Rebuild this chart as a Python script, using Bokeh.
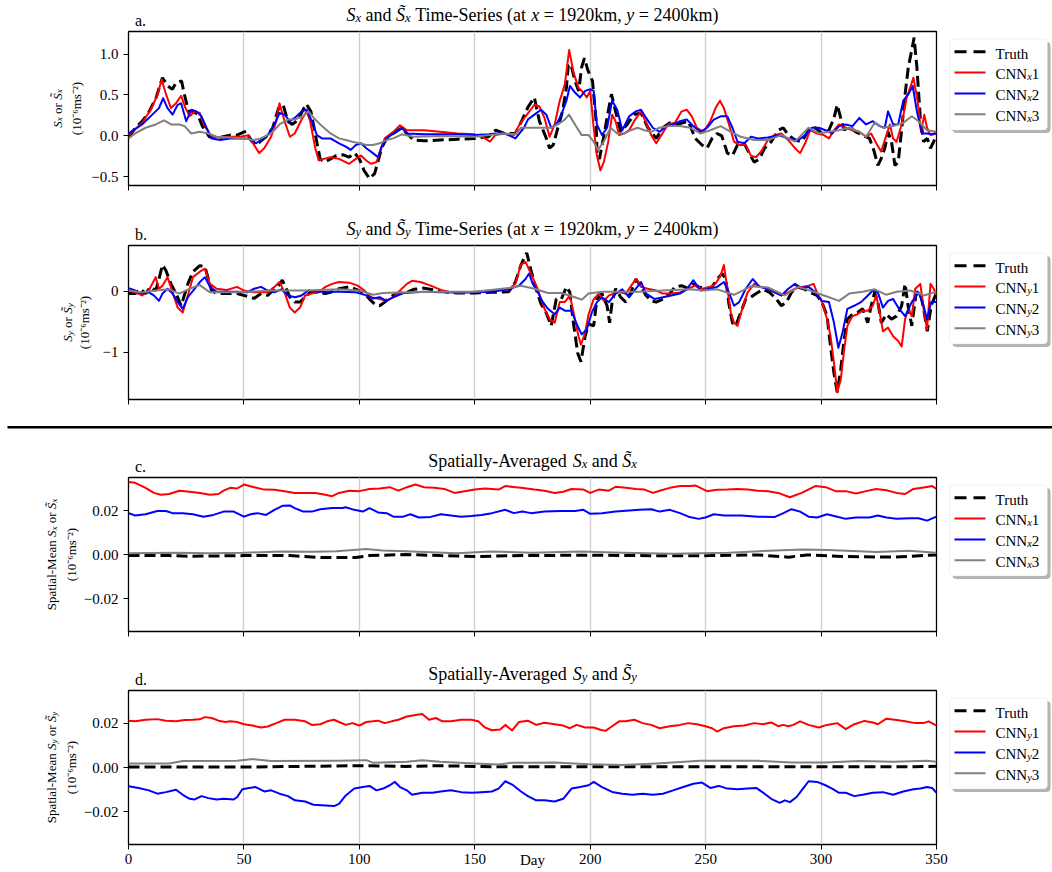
from bokeh.plotting import figure
from bokeh.layouts import column, row
from bokeh.models import Label, BoxAnnotation, FixedTicker, Range1d, CustomJSTickFormatter
from bokeh.embed import file_html
from bokeh.resources import INLINE

# ---------------- data (day, value) ----------------
# a. S_x at a single grid point
a_truth_day = [0, 3, 6, 9, 12, 14.7, 17, 19, 20.6, 23, 24, 26, 28, 30, 32, 35, 38, 41, 44, 47, 51, 53, 55, 57, 60,
               62.5, 65, 67, 69, 71, 73.5, 76, 77, 79, 81, 83, 85, 87.5, 90, 93, 95.5, 98, 100, 102, 104.4, 106.6, 108,
               109.6, 111.8, 114.7, 118.4, 120.6, 123.5, 128, 135, 142.6, 150, 156, 159, 163, 167.6, 170.6, 173, 175.8,
               178, 181, 182.4, 184, 186, 188, 189.7, 190.5, 191.6, 193.4, 195, 196.3, 197.5, 199, 201, 202.5, 203,
               204, 205.9, 207.8, 209.2, 211, 213.2, 216, 219, 222, 225, 228.6, 231.5, 234.5, 237.4, 240, 242.5, 245.5,
               248.4, 250.6, 252.8, 255, 257, 259.4, 261.6, 263.8, 266.7, 268.9, 271, 273.3, 275.5, 278.4, 281.4, 283.6,
               285.8, 288.7, 291.6, 294.6, 297.5, 300.4, 303.4, 305.6, 307, 308.5, 310, 312, 315, 318, 321, 323, 324.6,
               326, 327.6, 329, 330.5, 332, 333.4, 335, 336.4, 337.8, 339.3, 340.3, 341.5, 343, 344.4, 346, 347.4,
               348.8, 350]
a_truth = [-0.02, 0.1, 0.18, 0.3, 0.47, 0.71, 0.61, 0.57, 0.65, 0.67, 0.53, 0.3, 0.3, 0.26, 0.12, -0.01, -0.03, -0.01,
           0.01, 0.01, 0.06, -0.05, -0.11, -0.07, 0.0, 0.1, 0.34, 0.38, 0.18, 0.14, 0.2, 0.34, 0.39, 0.3, 0.01, -0.28,
           -0.32, -0.28, -0.24, -0.23, -0.26, -0.21, -0.28, -0.42, -0.52, -0.46, -0.32, -0.15, -0.03, 0.03, 0.1, 0.03,
           -0.05, -0.06, -0.05, -0.04, -0.03, -0.01, 0.07, 0.03, 0.03, 0.2, 0.35, 0.47, 0.18, -0.03, -0.15, -0.11, 0.1,
           0.3, 0.59, 0.86, 0.88, 0.67, 0.55, 0.84, 0.95, 0.8, 0.67, 0.2, -0.24, -0.28, 0.0, 0.3, 0.51, 0.3, 0.05,
           0.14, 0.26, 0.28, 0.1, -0.03, 0.1, 0.16, 0.14, 0.16, 0.18, -0.03, -0.11, -0.15, -0.03, 0.03, 0.0, -0.21,
           -0.24, -0.11, -0.09, -0.21, -0.32, -0.28, -0.15, -0.07, 0.07, 0.1, 0.01, -0.05, -0.07, 0.07, 0.1, 0.03,
           0.07, 0.22, 0.38, 0.22, 0.07, 0.12, 0.05, 0.01, -0.03, -0.19, -0.36, -0.28, -0.15, 0.05, -0.07, -0.36,
           -0.32, 0.1, 0.51, 0.84, 1.05, 1.2, 0.84, 0.22, -0.07, -0.03, -0.15, -0.07, 0.03]

a_cnn1_day = [0, 6, 10, 12.5, 14.4, 16, 18.4, 20.6, 22.8, 24.7, 26.5, 28.7, 30.9, 33, 36, 39.7, 44, 48.5, 52, 54.4,
              56.6, 58.8, 61.8, 64, 65.4, 67.6, 69.9, 72, 75, 77.2, 78.7, 80.9, 82.4, 84.6, 87.5, 91.2, 95.6, 98.5,
              100.7, 103, 105, 107.4, 108.8, 111, 114.7, 117.6, 120.6, 128, 135, 142.6, 150, 154.4, 156.6, 158.8, 163,
              166.9, 169, 172, 175.8, 178, 180.2, 182.4, 184.6, 186.8, 189, 190.9, 192.7, 194.9, 197, 198.5, 200,
              201.5, 202.9, 204.4, 205.9, 207.8, 209.5, 211, 212.5, 214.7, 216.9, 219, 222, 224.2, 226.4, 228.6, 230.8,
              233.7, 236.7, 239.6, 241.8, 244, 246.2, 249.1, 252, 254.3, 256.2, 257.9, 260.1, 262.3, 264.5, 267.4,
              269.6, 271.8, 274, 277, 279.9, 282.8, 285.8, 288.7, 290.9, 293.1, 295.3, 298.2, 301.2, 303.4, 305.6,
              307.8, 310.7, 313.6, 316.6, 319.5, 321.7, 323.9, 326, 328.3, 329.8, 331.2, 332.7, 334.9, 337.1, 338.6,
              340, 341.8, 343.3, 344.7, 345.9, 347.4, 350]
a_cnn1 = [0.01, 0.16, 0.34, 0.5, 0.69, 0.53, 0.34, 0.4, 0.49, 0.34, 0.24, 0.3, 0.28, 0.12, -0.01, -0.02, -0.01, -0.01,
          0.01, -0.11, -0.21, -0.15, -0.01, 0.18, 0.4, 0.18, -0.01, 0.03, 0.2, 0.3, 0.18, -0.15, -0.3, -0.28, -0.26,
          -0.28, -0.34, -0.28, -0.24, -0.3, -0.34, -0.32, -0.21, -0.03, 0.05, 0.13, 0.07, 0.07, 0.05, 0.03, 0.02,
          -0.03, -0.07, 0.01, 0.03, 0.01, 0.12, 0.24, 0.38, 0.36, 0.22, -0.01, 0.14, 0.43, 0.63, 1.05, 0.78, 0.59,
          0.53, 0.47, 0.55, 0.1, -0.24, -0.42, -0.32, -0.07, 0.26, 0.18, 0.01, 0.03, 0.07, 0.18, 0.3, 0.16, 0.01,
          -0.09, 0.01, 0.14, 0.16, 0.3, 0.32, 0.24, 0.1, 0.05, 0.18, 0.34, 0.43, 0.34, 0.14, -0.07, -0.11, -0.11,
          -0.24, -0.26, -0.19, -0.05, 0.01, 0.03, -0.05, -0.15, -0.21, -0.09, 0.07, 0.03, 0.01, -0.03, 0.07, 0.14,
          0.1, 0.07, 0.05, -0.01, 0.03, -0.09, -0.19, 0.01, 0.14, -0.03, -0.07, 0.14, 0.47, 0.59, 0.71, 0.43, 0.05,
          0.26, 0.1, 0.01, 0.03]

a_cnn2_day = [0, 5.9, 10.3, 13.2, 15, 16.9, 19.1, 21.3, 22.8, 25, 27.2, 29.4, 31.6, 33.8, 36, 39.7, 44, 48.5, 52.9,
              55.1, 57.4, 60.3, 63.2, 65.4, 67.6, 69.9, 72, 75, 77.2, 79.4, 81.6, 83.8, 87.5, 91.2, 94.1, 96.3, 98.5,
              100.7, 103, 105.9, 108.1, 109.6, 111.8, 114.7, 118.4, 120.6, 128, 135, 142.6, 150, 156, 159, 163, 167.6,
              171.3, 173, 175.8, 178.7, 181, 183.1, 185.3, 187.5, 189.7, 191.2, 193.4, 195.6, 197.8, 200, 201.5,
              202.9, 205.1, 207.3, 209.5, 211.7, 213.9, 216.9, 219.8, 222, 224.2, 227.1, 230.1, 233, 235.9, 238.9,
              241.8, 244.7, 247.7, 250.6, 253.5, 256.5, 259.4, 261.6, 263.8, 266.7, 269.7, 272.6, 277, 281.4, 285.8,
              290.2, 293.1, 296, 299, 301.9, 304.8, 307.8, 310.7, 313.6, 316.6, 319.5, 322.4, 325.4, 327.6, 329,
              331.2, 333.4, 335.6, 337.8, 339.7, 341.5, 343.7, 345.9, 348.1, 350]
a_cnn2 = [0.03, 0.14, 0.26, 0.34, 0.46, 0.34, 0.26, 0.38, 0.4, 0.18, 0.32, 0.3, 0.24, 0.1, -0.03, -0.05, -0.03, -0.03,
          -0.03, -0.09, -0.05, 0.01, 0.14, 0.28, 0.26, 0.18, 0.22, 0.3, 0.32, 0.18, 0.01, -0.03, -0.03, -0.09, -0.13,
          -0.17, -0.11, -0.09, -0.15, -0.21, -0.26, -0.13, -0.03, 0.03, 0.1, 0.03, 0.02, 0.02, 0.02, 0.01, 0.02, 0.03,
          0.03, -0.03, 0.1, 0.2, 0.26, 0.32, 0.26, 0.1, 0.14, 0.26, 0.43, 0.61, 0.53, 0.47, 0.55, 0.57, 0.55, 0.14,
          0.01, 0.1, 0.43, 0.32, 0.07, 0.24, 0.3, 0.32, 0.22, 0.1, 0.05, 0.12, 0.14, 0.18, 0.2, 0.12, 0.05, 0.1, 0.2,
          0.24, 0.24, 0.1, -0.07, -0.09, -0.01, -0.03, -0.02, 0.01, -0.03, -0.05, 0.01, 0.1, 0.1, 0.07, 0.03, 0.12,
          0.14, 0.12, 0.22, 0.14, 0.18, 0.12, 0.1, 0.3, 0.14, 0.14, 0.43, 0.51, 0.61, 0.3, 0.03, 0.03, 0.02, 0.04]

a_cnn3_day = [0, 2.9, 7.4, 11.8, 15.4, 18.4, 22, 24.3, 27.2, 30.9, 34.6, 38.2, 44, 50, 54.4, 57.3, 61.8, 65.4, 69, 72,
              75.7, 77.9, 80.9, 83.8, 87.5, 91.2, 94.1, 97, 100, 103, 105.9, 108.8, 111.8, 114.7, 118.4, 123.5, 135,
              150, 156, 162, 167.6, 170, 174.4, 178.7, 183.1, 186, 189, 190.8, 193.4, 196.3, 199.3, 201.5, 203.4,
              205.9, 208.8, 211.7, 214.7, 217.6, 220.5, 223.5, 226.4, 230, 234.5, 238.9, 243.3, 247.7, 252, 256.5,
              260.9, 265.2, 271, 277, 282.8, 288.7, 294.6, 299, 303.4, 307.8, 312.2, 316.6, 319.5, 323.2, 326.8,
              331.2, 335.6, 339.3, 342.2, 345.9, 350]
a_cnn3 = [-0.03, 0.03, 0.1, 0.14, 0.19, 0.14, 0.14, 0.12, 0.03, 0.05, 0.03, -0.01, -0.02, -0.03, -0.05, -0.03, 0.03,
          0.14, 0.2, 0.2, 0.24, 0.3, 0.2, 0.12, 0.03, -0.03, -0.05, -0.07, -0.09, -0.11, -0.11, -0.09, -0.05, -0.03,
          0.02, -0.01, 0.0, -0.01, 0.01, 0.03, 0.02, 0.1, 0.1, 0.1, 0.1, 0.14, 0.2, 0.26, 0.14, 0.01, 0.01, -0.07,
          -0.17, -0.07, 0.1, 0.03, 0.03, 0.07, 0.1, 0.07, 0.05, 0.1, 0.12, 0.12, 0.1, 0.03, 0.07, 0.12, 0.05, -0.01,
          -0.05, -0.05, 0.01, -0.07, 0.1, 0.03, 0.05, 0.07, 0.1, 0.05, -0.01, 0.16, 0.1, 0.12, 0.16, 0.24, 0.18,
          0.07, 0.05]

# b. S_y at a single grid point
b_truth_day = [0, 2.9, 5.1, 7.4, 9.6, 11.8, 13.2, 14.7, 16.2, 18.4, 20.6, 22.8, 25.7, 27.9, 30.9, 33.1, 34.6, 36,
               38.2, 47, 52.9, 54.4, 57.4, 60.3, 62.5, 64.7, 66.6, 68, 69.9, 72.1, 74.3, 76.5, 78.7, 82.4, 85.3, 87.5,
               91.2, 95.6, 100, 102.2, 104.4, 106.6, 108.8, 111, 113.2, 116.2, 120.6, 123.5, 128, 134, 138.4, 142.8,
               150, 157.4, 164.7, 167.6, 170, 172.5, 174.3, 176.5, 178.7, 180.9, 183.1, 185.3, 187.5, 189.7, 191.2,
               192.7, 194.6, 196, 197.8, 199.3, 201.5, 202.9, 205.1, 207.3, 208.4, 209.5, 211, 213.2, 215.4, 217.6,
               219.8, 222, 224.2, 226.4, 228.6, 231.5, 234.5, 236.7, 239.6, 242.5, 244.7, 246.9, 249.9, 252.8, 255,
               257.2, 258.7, 260.1, 261.6, 263, 265.2, 267.4, 269.6, 271.9, 274.8, 277.7, 280.6, 282.8, 285, 287.2,
               289.4, 292.4, 295.3, 298.2, 300.4, 302.6, 304.1, 305.6, 307, 308.5, 310, 311.4, 313.6, 315.8, 318,
               320.2, 321.7, 323.2, 324.6, 326.1, 328.3, 330.5, 332.7, 334.9, 336.4, 337.8, 339.3, 341.2, 343, 344.4,
               346, 347.7, 350]
b_truth = [-0.04, -0.04, 0.04, -0.04, 0.07, 0.01, 0.2, 0.43, 0.34, 0.12, -0.04, -0.24, 0.12, 0.32, 0.42, 0.4, 0.2,
           0.01, -0.04, -0.04, -0.1, -0.12, -0.04, -0.07, 0.01, 0.07, 0.18, 0.07, -0.1, -0.18, -0.18, -0.1, -0.02,
           -0.02, -0.04, -0.02, 0.04, 0.07, 0.01, -0.04, -0.13, -0.21, -0.24, -0.18, -0.1, -0.04, -0.02, 0.03, 0.05,
           0.01, -0.02, -0.03, -0.03, -0.02, -0.01, 0.15, 0.43, 0.63, 0.35, 0.04, -0.21, -0.35, -0.57, -0.13, -0.13,
           0.07, -0.02, -0.52, -1.02, -1.16, -0.74, -0.54, -0.57, -0.13, -0.04, -0.24, -0.52, -0.18, 0.04, -0.1,
           -0.18, -0.02, 0.2, 0.07, -0.07, -0.16, -0.18, -0.13, -0.04, 0.07, 0.09, 0.04, 0.12, 0.07, 0.04, 0.07, 0.2,
           0.29, 0.2, -0.21, -0.52, -0.57, -0.35, -0.13, -0.1, -0.04, 0.03, -0.02, -0.13, -0.24, -0.18, -0.02, 0.07,
           0.04, -0.02, -0.07, -0.18, -0.41, -0.91, -1.35, -1.66, -1.29, -0.79, -0.46, -0.38, -0.35, -0.29, -0.52,
           -0.24, -0.02, -0.18, -0.52, -0.38, -0.46, -0.41, -0.24, 0.12, -0.27, -0.57, -0.02, -0.02, -0.29, -0.66,
           -0.24, -0.02]

b_cnn1_day = [0, 2.9, 5.9, 8.8, 11.8, 13.2, 14.7, 16.9, 19.1, 21.3, 23.5, 25.7, 27.9, 30.9, 33.1, 35.3, 38.2, 42.6,
              47, 50, 54.4, 60.3, 63.2, 65.4, 67.6, 69.9, 72, 74.3, 76.5, 79.4, 82.4, 85.3, 88.2, 91.2, 95.6, 99.3,
              102.2, 105.1, 108.8, 111.8, 114.7, 117.6, 120.6, 122.8, 126.5, 130.9, 135.3, 139.7, 144.1, 150, 157.4,
              164.7, 167.6, 169.9, 172, 174.3, 177.2, 180.2, 182.4, 184.6, 186.8, 189, 191.2, 193.4, 194.9, 196,
              197.8, 199.3, 201.5, 203.7, 205.9, 208.1, 210.3, 212.5, 215.4, 218.3, 219.8, 222, 224.9, 228.6, 231.5,
              235.2, 238.9, 242.5, 245.5, 248.4, 252, 254.3, 256.5, 257.9, 259.4, 260.9, 262.3, 263.8, 266, 268.2,
              271.1, 274, 277, 279.9, 282.8, 285.8, 288.7, 291.6, 294.6, 296.8, 298.2, 300.4, 302.6, 304.1, 305.6,
              307, 308.5, 310, 311.4, 313.6, 315.8, 318, 320.2, 322.4, 323.9, 325.4, 326.8, 329, 331.2, 333.4, 334.9,
              336.4, 337.8, 339.3, 340.8, 343, 344.4, 345.9, 347.4, 348.8, 350]
b_cnn1 = [0.01, -0.02, -0.07, 0.01, 0.23, 0.04, 0.09, 0.23, -0.02, -0.27, -0.35, -0.07, 0.23, 0.32, 0.37, 0.12, 0.04,
          0.02, 0.07, 0.01, -0.02, -0.02, 0.07, 0.15, -0.02, -0.27, -0.35, -0.27, -0.07, -0.04, -0.02, 0.07, 0.12,
          0.15, 0.14, 0.09, 0.01, -0.1, -0.13, -0.16, -0.1, 0.01, 0.12, 0.17, 0.15, 0.09, 0.02, -0.02, -0.03, -0.01,
          0.01, 0.03, 0.12, 0.43, 0.48, 0.29, 0.04, -0.29, -0.46, -0.52, -0.18, -0.18, -0.07, -0.46, -0.74, -0.88,
          -0.68, -0.38, -0.13, -0.04, -0.16, -0.07, -0.04, -0.02, -0.04, 0.12, 0.2, 0.07, 0.04, 0.01, -0.04, -0.04,
          -0.02, 0.04, 0.09, 0.04, 0.07, 0.12, 0.26, 0.43, 0.04, -0.35, -0.52, -0.57, -0.27, -0.02, 0.12, 0.07, 0.04,
          -0.02, -0.07, -0.02, 0.04, 0.07, 0.09, 0.12, -0.02, -0.18, -0.46, -0.74, -1.18, -1.66, -1.46, -0.96, -0.57,
          -0.41, -0.38, -0.32, -0.32, -0.24, -0.07, -0.35, -0.66, -0.6, -0.74, -0.82, -0.91, -0.46, -0.29, -0.41,
          0.04, 0.12, -0.29, -0.63, 0.12, 0.04, -0.07]

b_cnn2_day = [0, 2.9, 5.9, 8.8, 11, 13.2, 14.7, 16.9, 19.1, 21.3, 23.5, 25.7, 28.7, 30.9, 33.1, 35.3, 38.2, 47, 51.5,
              54.4, 57.4, 60.3, 63.2, 66.2, 69.1, 72.1, 75, 77.9, 82.4, 91.2, 98.5, 103, 105.9, 108.8, 111.8, 114.7,
              119.1, 128, 135.3, 142.6, 150, 157.4, 164.7, 169.1, 172, 173.5, 175.1, 177.3, 179.5, 181.7, 184.6,
              186.8, 189, 191.9, 194.1, 196.3, 198.5, 200.7, 202.9, 205.1, 208.1, 211, 213.9, 216.9, 219.8, 222,
              224.2, 227.9, 231.5, 235.2, 238.9, 241.8, 244.7, 247.7, 252, 255, 257.9, 260.1, 262.3, 264.5, 267.4,
              270.4, 273.3, 277, 279.9, 282.8, 285.8, 288.7, 291.6, 294.6, 297.5, 300.4, 303.4, 305.6, 307.5, 309.3,
              311.4, 314.3, 317.3, 319.5, 322.4, 324.6, 326.8, 329, 331.2, 333.4, 336.4, 339.3, 342.2, 344.4, 345.9,
              347.7, 350]
b_cnn2 = [0.05, 0.01, -0.04, -0.02, -0.07, -0.16, -0.04, 0.04, -0.04, -0.18, -0.29, -0.1, 0.04, 0.15, 0.23, 0.07,
          -0.01, -0.01, -0.02, 0.04, 0.07, 0.01, -0.02, 0.03, -0.07, -0.1, -0.07, 0.01, -0.01, -0.01, -0.02, -0.07,
          -0.12, -0.1, -0.16, -0.1, -0.03, -0.01, -0.02, -0.02, -0.02, -0.01, 0.03, 0.09, 0.2, 0.29, 0.12, -0.02,
          -0.18, -0.29, -0.38, -0.27, -0.32, -0.32, -0.54, -0.71, -0.63, -0.35, -0.18, -0.1, -0.18, -0.04, 0.03,
          -0.1, 0.04, 0.15, -0.04, -0.13, -0.1, -0.07, -0.04, 0.03, 0.18, 0.01, 0.04, 0.07, 0.15, -0.02, -0.24,
          -0.18, 0.04, 0.2, 0.07, 0.04, -0.02, -0.07, 0.04, 0.12, 0.05, 0.07, -0.02, -0.16, -0.18, -0.52, -0.93,
          -0.68, -0.29, -0.24, -0.18, -0.1, 0.01, -0.02, -0.27, -0.16, -0.13, -0.27, -0.41, -0.18, -0.02, -0.24,
          -0.46, -0.18, -0.18]

b_cnn3_day = [0, 5.9, 11.8, 17.6, 22, 26.5, 30.9, 35.3, 47, 61.8, 76.5, 91.2, 100, 105.9, 110.3, 120.6, 135.3, 150,
              164.7, 170, 175.8, 181.7, 187.5, 193.4, 196.3, 199.3, 205.1, 213.9, 221.3, 231.5, 243.3, 249.1, 255,
              262.3, 269.6, 277, 284.3, 290.2, 297.5, 301.9, 307.8, 312.2, 318, 323.2, 328.3, 332.7, 338.6, 344.4,
              350]
b_cnn3 = [0.01, -0.02, 0.01, 0.03, -0.04, 0.04, 0.1, -0.02, -0.02, 0.01, 0.01, 0.03, 0.01, -0.06, -0.03, -0.02,
          -0.01, -0.01, 0.05, 0.09, 0.04, -0.03, -0.03, -0.1, -0.14, -0.04, -0.01, -0.01, -0.01, 0.01, 0.03, 0.01,
          0.03, -0.06, 0.08, 0.06, -0.07, 0.07, -0.02, -0.08, -0.16, -0.04, -0.01, 0.03, -0.06, -0.01, 0.01, -0.07,
          -0.01]

# c. spatially averaged S_x
c_truth_day = [0, 17.6, 26.5, 50, 69.9, 84, 98.5, 104.4, 120, 135, 150, 170, 200, 235, 252, 273, 286, 294, 309, 331,
               350]
c_truth = [-0.0005, -0.0005, -0.0008, -0.0005, -0.0005, -0.0014, -0.0014, -0.0005, 0.0, -0.0005, -0.0009, -0.0005,
           -0.0003, -0.0006, -0.0005, -0.0002, -0.0012, -0.0002, -0.0009, -0.0012, -0.0002]

c_cnn1_day = [0, 2.9, 7.4, 11, 14, 17.6, 22, 26.5, 30.9, 35.3, 39, 41.2, 44, 47, 50, 54.4, 58.8, 63.2, 67.6, 72,
              76.5, 80.9, 85.3, 88.2, 91.2, 95.6, 100, 104.4, 108.8, 113.2, 116.9, 120.6, 124.3, 128, 132.4, 136.8,
              141.2, 145.6, 150, 154.4, 160.3, 163.2, 167.6, 170, 175.8, 180.2, 184.6, 188.3, 191.9, 197.1, 200,
              203.7, 208.1, 211, 215.4, 219.8, 223.5, 227.2, 230.1, 234.5, 238.9, 243.3, 245.5, 250.6, 255, 259.4,
              263.8, 268.2, 272.6, 277, 281.4, 286.5, 291.6, 297.5, 302, 306.3, 310.7, 315.1, 319.5, 323.9, 328.3,
              332.7, 336.4, 340, 345.2, 348.1, 350]
c_cnn1 = [0.0329, 0.0326, 0.0303, 0.028, 0.0272, 0.0275, 0.029, 0.0285, 0.028, 0.0272, 0.0275, 0.029, 0.0303, 0.03,
          0.0318, 0.0306, 0.0295, 0.0294, 0.0288, 0.028, 0.028, 0.028, 0.0272, 0.0265, 0.028, 0.029, 0.0288, 0.0298,
          0.03, 0.0306, 0.029, 0.0306, 0.0318, 0.0306, 0.0303, 0.0298, 0.028, 0.0288, 0.0295, 0.03, 0.0295, 0.0311,
          0.0306, 0.0303, 0.0295, 0.029, 0.028, 0.0285, 0.0298, 0.0295, 0.028, 0.0295, 0.029, 0.0308, 0.0303, 0.0298,
          0.0295, 0.028, 0.029, 0.0303, 0.0311, 0.0311, 0.0314, 0.0288, 0.0294, 0.0295, 0.0298, 0.0295, 0.029,
          0.0288, 0.028, 0.026, 0.028, 0.0311, 0.0306, 0.0288, 0.0288, 0.0277, 0.0288, 0.0298, 0.0292, 0.028, 0.0275,
          0.0298, 0.0306, 0.0311, 0.0298]

c_cnn2_day = [0, 2.9, 7.4, 12.5, 16.2, 19.1, 23.5, 27.9, 32.4, 36.8, 41.2, 45.6, 50, 52.9, 55.9, 59.6, 63.2, 66.9,
              69.9, 72, 75.7, 79.4, 83.1, 88.2, 92.7, 94.1, 97.8, 101.5, 104.4, 108.1, 111.8, 114.7, 119.1, 122.1,
              125.8, 130.9, 135.3, 139.7, 144.1, 148.5, 152.9, 157.4, 163.2, 166.9, 170.6, 174.4, 180.2, 187.5, 193.4,
              197.1, 200, 205.1, 211, 216.9, 221.3, 226.4, 230.1, 234.5, 238.9, 242.6, 247, 249.9, 253.6, 258, 265.4,
              272.7, 280, 283.7, 287.2, 290.9, 294.6, 298.3, 302.6, 307, 310.7, 315.1, 321, 324.6, 328.3, 332.7,
              338.6, 342.2, 345.9, 350]
c_cnn2 = [0.0188, 0.0177, 0.0183, 0.0198, 0.0198, 0.0188, 0.0188, 0.0183, 0.0172, 0.018, 0.0195, 0.0195, 0.0172,
          0.0183, 0.0188, 0.018, 0.0203, 0.0222, 0.0223, 0.0211, 0.0195, 0.0195, 0.0206, 0.0211, 0.0211, 0.0215,
          0.0203, 0.0195, 0.0211, 0.0191, 0.0188, 0.0172, 0.0172, 0.0183, 0.0168, 0.0171, 0.0183, 0.0177, 0.0172,
          0.0175, 0.018, 0.0188, 0.0203, 0.0188, 0.0195, 0.0188, 0.0195, 0.0198, 0.0198, 0.0203, 0.0185, 0.0188,
          0.0195, 0.02, 0.0203, 0.0206, 0.0195, 0.0203, 0.0188, 0.0172, 0.0162, 0.0168, 0.0183, 0.0177, 0.0177,
          0.0172, 0.0171, 0.0188, 0.0206, 0.0195, 0.0172, 0.0168, 0.0183, 0.0172, 0.0162, 0.0168, 0.0168, 0.0177,
          0.0168, 0.0162, 0.0165, 0.0165, 0.0154, 0.0172]

c_cnn3_day = [0, 20, 35, 50, 66, 80, 90, 103, 110, 120, 142, 157, 175, 196, 214, 236, 260, 273, 292, 303, 324, 338,
              350]
c_cnn3 = [0.0006, 0.0008, 0.0006, 0.0008, 0.0014, 0.0012, 0.0015, 0.0025, 0.0018, 0.0015, 0.0006, 0.0014, 0.0008,
          0.0014, 0.0008, 0.0003, 0.0008, 0.0015, 0.0023, 0.002, 0.0011, 0.0017, 0.0008]

# d. spatially averaged S_y
d_truth_day = [0, 50, 100, 120, 135, 160, 200, 250, 300, 340, 350]
d_truth = [0.0002, 0.0002, 0.0008, 0.0005, 0.0008, 0.0003, 0.0003, 0.0003, 0.0003, 0.0003, 0.0006]

d_cnn1_day = [0, 2.9, 7.4, 12.5, 16.2, 20.6, 24.3, 27.9, 30.9, 33, 36, 39, 41.9, 44.1, 47, 50, 53.7, 57.4, 60.3, 64,
              67.6, 72, 76.5, 79.4, 83.1, 86, 89, 91.2, 94.1, 97, 100, 103, 105.9, 108.1, 111, 114, 116.9, 120.6, 125,
              127.2, 130.2, 133.1, 136, 139.7, 144.1, 148.5, 151.5, 154.4, 157.4, 161, 163.2, 166.2, 169.1, 173,
              176.6, 180.2, 184.6, 188.3, 191.2, 194.1, 197.8, 201.5, 204.4, 206.6, 209.5, 212.5, 215.4, 219.1,
              222.7, 226.4, 230.1, 234.5, 238.9, 242.5, 246.2, 249.9, 252.8, 255, 257.9, 262.3, 266.7, 271.1, 274.8,
              278.4, 281.4, 283.6, 285.8, 288, 290.9, 294.6, 299, 302.6, 307, 310.7, 314.4, 318.8, 322.4, 324.6,
              328.3, 332, 336.4, 340.8, 344.4, 346.6, 350]
d_cnn1 = [0.0211, 0.0208, 0.0215, 0.0218, 0.0211, 0.0208, 0.0214, 0.0215, 0.0217, 0.0227, 0.0223, 0.0211, 0.0205,
          0.0208, 0.0205, 0.0195, 0.0189, 0.018, 0.0185, 0.02, 0.0215, 0.0215, 0.0208, 0.0192, 0.0195, 0.0208, 0.0215,
          0.0205, 0.0192, 0.02, 0.0189, 0.0205, 0.0208, 0.0211, 0.02, 0.0208, 0.0215, 0.023, 0.0238, 0.0241, 0.0215,
          0.0223, 0.0208, 0.0208, 0.0215, 0.0215, 0.0208, 0.018, 0.0168, 0.0171, 0.0192, 0.0167, 0.0205, 0.0211,
          0.0192, 0.0202, 0.0195, 0.0189, 0.0177, 0.0192, 0.018, 0.018, 0.017, 0.0165, 0.0186, 0.0208, 0.0208,
          0.0215, 0.02, 0.0192, 0.0177, 0.0186, 0.0192, 0.02, 0.0195, 0.0186, 0.0177, 0.0162, 0.0177, 0.0186, 0.0189,
          0.02, 0.0195, 0.0203, 0.0186, 0.0192, 0.0186, 0.0192, 0.0208, 0.0192, 0.018, 0.0192, 0.02, 0.0173, 0.0195,
          0.021, 0.0203, 0.0195, 0.022, 0.0215, 0.0208, 0.02, 0.02, 0.0208, 0.0189]

d_cnn2_day = [0, 4.4, 8.8, 12.5, 16.2, 20.6, 23.5, 26.5, 28.7, 31.6, 34.6, 38.2, 41.2, 45.6, 47.1, 49.3, 52.2, 55.1,
              58.8, 61.8, 65.4, 69.1, 72.1, 76.5, 80.1, 85.3, 89, 91.2, 94.1, 97.8, 101.5, 104.4, 107.4, 110.3, 113.2,
              115.4, 117.6, 120.6, 122.8, 127.2, 131.6, 135.3, 139.7, 144.1, 148.5, 152.9, 157.4, 160.3, 163.2, 166.2,
              170, 173, 176.6, 180.2, 184.6, 188.3, 191.9, 195.6, 199.3, 201.5, 205.1, 209.5, 213.9, 218.3, 222.7,
              227.1, 231.5, 235.9, 240.3, 244.7, 248.4, 252, 255.7, 259.4, 263.8, 268.2, 271.9, 275.5, 278.4, 282.1,
              284.3, 286.5, 289.4, 292.4, 294.6, 298.3, 301.9, 304.8, 307.8, 310.7, 314.4, 318, 322.4, 326.8, 331.2,
              335.6, 340, 343, 345.9, 348.1, 350]
d_cnn2 = [-0.0085, -0.0092, -0.0103, -0.0118, -0.0111, -0.01, -0.0123, -0.0141, -0.0144, -0.0129, -0.0138, -0.0144,
          -0.0141, -0.0144, -0.0133, -0.0098, -0.0092, -0.0088, -0.0108, -0.0103, -0.0118, -0.0129, -0.0148, -0.0153,
          -0.0168, -0.0171, -0.0174, -0.0164, -0.0126, -0.0095, -0.0088, -0.0083, -0.0103, -0.0095, -0.008, -0.0065,
          -0.0088, -0.0103, -0.0123, -0.0114, -0.0114, -0.0108, -0.0103, -0.0111, -0.0114, -0.0111, -0.0108,
          -0.0095, -0.0062, -0.0077, -0.0108, -0.0129, -0.0148, -0.0148, -0.0153, -0.0141, -0.0095, -0.0088, -0.008,
          -0.0065, -0.0088, -0.011, -0.0118, -0.0123, -0.0118, -0.0123, -0.0118, -0.0103, -0.0088, -0.0073, -0.0068,
          -0.0092, -0.0083, -0.0095, -0.0098, -0.0095, -0.0092, -0.0118, -0.0141, -0.0159, -0.0148, -0.0156,
          -0.0133, -0.0092, -0.0062, -0.0065, -0.008, -0.0095, -0.0114, -0.0114, -0.0129, -0.0123, -0.0114, -0.0111,
          -0.0123, -0.0108, -0.0098, -0.0095, -0.0088, -0.0092, -0.0114]

d_cnn3_day = [0, 17.6, 23.5, 47, 54, 61.8, 91, 103, 106, 120.6, 127.2, 135, 150, 160.3, 166, 175, 184.6, 199.3,
              213.9, 228.6, 247.6, 272.6, 287.2, 301.9, 316.6, 331.2, 345.9, 350]
d_cnn3 = [0.0018, 0.0018, 0.0029, 0.003, 0.0038, 0.0029, 0.003, 0.0033, 0.0021, 0.0026, 0.0033, 0.0026, 0.0018,
          0.0014, 0.0021, 0.0021, 0.0023, 0.0015, 0.0011, 0.0018, 0.003, 0.003, 0.0023, 0.0023, 0.0029, 0.0026, 0.003,
          0.0026]

x_ticks = [0, 50, 100, 150, 200, 250, 300, 350]

# ---------------- styling / layout ----------------
FONT = "Liberation Serif"
WIDTH = 1052
FRAME_LEFT = 128          # x of the plotting frame's left edge
FW = 808                  # frame width
FH = 154                  # frame height
PAD_R = 12                # main figure border right of the frame (room for the last tick label)
LEG_X0 = FRAME_LEFT + FW + PAD_R          # page x where the legend strip starts
LEG_W = WIDTH - LEG_X0                    # legend strip width
RED, BLUE, GRAY = "#ff0000", "#0000ff", "#808080"
VERT = 1.5707963267948966
DESC = 0.216              # rendered baseline sits this many em below the requested one

# advance widths (1/1000 em) of the serif face, used to lay out mixed-style text runs
MET = {' ': 250, 'a': 444, 'b': 500, 'c': 444, 'd': 500, 'e': 444, 'f': 333, 'g': 500, 'h': 500, 'i': 278, 'j': 278,
       'k': 500, 'l': 278, 'm': 778, 'n': 500, 'o': 500, 'p': 500, 'q': 500, 'r': 333, 's': 389, 't': 278, 'u': 500,
       'v': 500, 'w': 722, 'x': 500, 'y': 500, 'z': 444, 'A': 722, 'C': 667, 'D': 722, 'M': 889, 'N': 722, 'S': 556,
       'T': 611, '(': 333, ')': 333, ',': 250, '-': 333, '.': 250, '=': 564}
MET_IT = {'S': 500, 'x': 444, 'y': 444}
SUB = 0.7


def text_w(s, size, italic):
    tot = 0
    for ch in s:
        if ch == "\u0303":
            continue
        if italic and ch in MET_IT:
            tot += MET_IT[ch]
        else:
            tot += MET.get(ch, 500)
    return tot / 1000.0 * size


def rich(p, segs, x, y, size, angle=0.0, align="center", color="black"):
    """Draw a run of text pieces: kind 'n' upright, 'i' italic, 's' italic subscript.
    (x, y) is the wanted baseline point, in screen units from the frame's bottom-left."""
    if angle == 0:
        y = y + DESC * size
    else:
        x = x - DESC * size
    if len(segs) == 1 and segs[0][1] == "n":
        p.add_layout(Label(x=x, y=y, x_units="screen", y_units="screen", text=segs[0][0], angle=angle,
                           text_font=FONT, text_font_size=f"{size:.1f}px", text_align=align,
                           text_baseline="alphabetic", text_color=color))
        return
    sizes = [size * SUB if k == "s" else size for _, k in segs]
    widths = [text_w(t, s, k in "is") for (t, k), s in zip(segs, sizes)]
    pos = -sum(widths) / 2.0 if align == "center" else 0.0
    for (t, k), s, w in zip(segs, sizes, widths):
        body = t.strip()
        lead = text_w(t[:len(t) - len(t.lstrip())], s, False)
        if body:
            off = pos + lead
            drop = 0.22 * size if k == "s" else 0.0
            if angle == 0:
                lx, ly = x + off, y - drop + DESC * (size - s)
            else:
                lx, ly = x + drop - DESC * (size - s), y + off
            p.add_layout(Label(x=lx, y=ly, x_units="screen", y_units="screen", text=body, angle=angle,
                               text_font=FONT, text_font_size=f"{s:.1f}px",
                               text_font_style="italic" if k in "is" else "normal",
                               text_align="left", text_baseline="alphabetic", text_color=color))
        pos += w


def sbox(**kw):
    return BoxAnnotation(left_units="screen", right_units="screen", top_units="screen", bottom_units="screen", **kw)


def strip(width, height):
    """Blank canvas that carries titles, axis captions and legends."""
    s = figure(width=width, height=height, x_range=Range1d(0, 1), y_range=Range1d(0, 1), output_backend="svg",
               toolbar_location=None, title=None, x_axis_type=None, y_axis_type=None, min_border=0)
    s.outline_line_color = None
    s.background_fill_color = "white"
    s.border_fill_color = "white"
    return s


# Strips that sit in a row beside a panel share that panel's frame rows,
# so their screen coordinates below are measured from the panel frame's bottom edge.
def legend_strip(height, comp):
    s = strip(LEG_W, height)
    top = FH - 7.5
    bot = top - 91
    l, r = 949 - LEG_X0, 1047 - LEG_X0
    s0, s1 = 954 - LEG_X0, 985 - LEG_X0
    tx = 995 - LEG_X0
    s.add_layout(sbox(left=l + 3, right=r + 3, top=top - 3, bottom=bot - 3, fill_color="#9a9a9a", fill_alpha=0.75,
                      line_color=None, border_radius=4))
    s.add_layout(sbox(left=l, right=r, top=top, bottom=bot, fill_color="white", fill_alpha=1.0,
                      line_color="#cccccc", line_width=1, border_radius=4))
    rows = [12.8, 33.6, 54.4, 75.2]
    entries = [("black", [("Truth", "n")]),
               (RED, [("CNN", "n"), (comp, "s"), ("1", "n")]),
               (BLUE, [("CNN", "n"), (comp, "s"), ("2", "n")]),
               (GRAY, [("CNN", "n"), (comp, "s"), ("3", "n")])]
    for i, (col, segs) in enumerate(entries):
        cy = top - rows[i]
        if i == 0:
            for a0, a1 in ((s0, s0 + 12), (s1 - 12, s1)):
                s.add_layout(sbox(left=a0, right=a1, top=cy + 1.5, bottom=cy - 1.5, fill_color="black",
                                  fill_alpha=1.0, line_color=None))
        else:
            s.add_layout(sbox(left=s0, right=s1, top=cy + 1, bottom=cy - 1, fill_color=col, fill_alpha=1.0,
                              line_color=None))
        rich(s, segs, tx, cy - 5, 15, align="left")
    return s


def ylabel_strip(width, height, line1, x1, x2):
    s = strip(width, height)
    yc = FH / 2.0
    rich(s, line1, x1, yc, 13, angle=VERT)
    rich(s, [("(10\u207b\u2076ms\u207b\u00b2)", "n")], x2, yc, 13, angle=VERT)
    return s


def title_strip(height, letter, title):
    s = strip(WIDTH, height)
    rich(s, [(letter, "n")], FRAME_LEFT + 6.5, 5.5, 16, align="left")
    rich(s, title, FRAME_LEFT + FW / 2.0, 10.5, 18)
    return s


def main_panel(lab_w, bottom, yr, yticks, digits, show_x):
    left_border = FRAME_LEFT - lab_w
    p = figure(width=left_border + FW + PAD_R, height=2 + FH + bottom, x_range=Range1d(0, 350),
               y_range=Range1d(*yr), output_backend="svg", toolbar_location=None, title=None,
               min_border_left=left_border, min_border_right=PAD_R, min_border_top=2, min_border_bottom=bottom)
    p.background_fill_color = "white"
    p.border_fill_color = "white"
    p.outline_line_color = "black"
    p.outline_line_width = 1.3
    p.ygrid.visible = False
    p.xgrid.ticker = FixedTicker(ticks=x_ticks[1:-1])
    p.xgrid.grid_line_color = "#cfcfcf"
    p.xgrid.grid_line_width = 1.4
    for ax in (p.xaxis[0], p.yaxis[0]):
        ax.axis_line_color = None
        ax.major_tick_out = 5
        ax.major_tick_in = 0
        ax.minor_tick_out = 0
        ax.minor_tick_in = 0
        ax.major_tick_line_color = "black"
        ax.major_tick_line_width = 1
        ax.major_label_text_font = FONT
        ax.major_label_text_font_size = "15px"
        ax.major_label_text_color = "black"
    p.xaxis.ticker = FixedTicker(ticks=x_ticks, minor_ticks=[])
    p.yaxis.ticker = FixedTicker(ticks=yticks, minor_ticks=[])
    p.yaxis.major_label_standoff = 5
    p.yaxis.formatter = CustomJSTickFormatter(
        code="return (tick < -1e-12 ? '\\u2212' : '') + Math.abs(tick).toFixed(%d);" % digits)
    if show_x:
        p.xaxis.major_label_standoff = 4
        p.xaxis.axis_label = "Day"
        p.xaxis.axis_label_text_font = FONT
        p.xaxis.axis_label_text_font_size = "15px"
        p.xaxis.axis_label_text_font_style = "normal"
        p.xaxis.axis_label_text_color = "black"
        p.xaxis.axis_label_standoff = -15
    else:
        p.xaxis.major_label_text_font_size = "1px"
        p.xaxis.major_label_standoff = 0
        p.xaxis.formatter = CustomJSTickFormatter(code="return '';")
    return p


def draw_series(p, series):
    (td, tv), (d1, v1), (d2, v2), (d3, v3) = series
    p.line(td, tv, line_color="black", line_width=3, line_dash="11 5")
    p.line(d1, v1, line_color=RED, line_width=2, line_join="round")
    p.line(d2, v2, line_color=BLUE, line_width=2, line_join="round")
    p.line(d3, v3, line_color=GRAY, line_width=2, line_join="round")


def point_title(c):
    return [("S", "i"), (c, "s"), (" and ", "n"), ("S\u0303", "i"), (c, "s"), (" Time-Series (at ", "n"),
            ("x", "i"), (" = 1920km, ", "n"), ("y", "i"), (" = 2400km)", "n")]


def mean_title(c):
    return [("Spatially-Averaged ", "n"), ("S", "i"), (c, "s"), (" and ", "n"), ("S\u0303", "i"), (c, "s")]


def ylab_point(c):
    return [("S", "i"), (c, "s"), (" or ", "n"), ("S\u0303", "i"), (c, "s")]


def ylab_mean(c):
    return [("Spatial-Mean ", "n"), ("S", "i"), (c, "s"), (" or ", "n"), ("S\u0303", "i"), (c, "s")]


def block(title_h, letter, title, lab_w, line1, x1, x2, bottom, yr, yticks, digits, show_x, comp, series):
    t = title_strip(title_h, letter, title)
    p = main_panel(lab_w, bottom, yr, yticks, digits, show_x)
    draw_series(p, series)
    h = 2 + FH + bottom
    yl = ylabel_strip(lab_w, h, line1, x1, x2)
    lg = legend_strip(h, comp)
    return t, row(yl, p, lg, spacing=0)


ta, ra = block(29, "a.", point_title("x"), 88, ylab_point("x"), 59.5, 79, 30,
               (-0.605, 1.275), [-0.5, 0.0, 0.5, 1.0], 1, False, "x",
               [(a_truth_day, a_truth), (a_cnn1_day, a_cnn1), (a_cnn2_day, a_cnn2), (a_cnn3_day, a_cnn3)])
tb, rb = block(28, "b.", point_title("y"), 95, ylab_point("y"), 70, 87, 25,
               (-1.78, 0.75), [-1.0, 0.0], 0, False, "y",
               [(b_truth_day, b_truth), (b_cnn1_day, b_cnn1), (b_cnn2_day, b_cnn2), (b_cnn3_day, b_cnn3)])
tc, rc = block(51, "c.", mean_title("x"), 80, ylab_mean("x"), 54, 74, 29,
               (-0.035, 0.035), [-0.02, 0.0, 0.02], 2, False, "x",
               [(c_truth_day, c_truth), (c_cnn1_day, c_cnn1), (c_cnn2_day, c_cnn2), (c_cnn3_day, c_cnn3)])
# rule separating the single-point series from the spatial means
tc.add_layout(sbox(left=7, right=WIDTH, top=49.6, bottom=47, fill_color="black", fill_alpha=1.0, line_color=None))
td, rd = block(28, "d.", mean_title("y"), 80, ylab_mean("y"), 54, 74, 28,
               (-0.0347, 0.0347), [-0.02, 0.0, 0.02], 2, True, "y",
               [(d_truth_day, d_truth), (d_cnn1_day, d_cnn1), (d_cnn2_day, d_cnn2), (d_cnn3_day, d_cnn3)])

layout = column(ta, ra, tb, rb, tc, rc, td, rd, spacing=0)
open("out.html", "w", encoding="utf-8").write(file_html(layout, INLINE))
